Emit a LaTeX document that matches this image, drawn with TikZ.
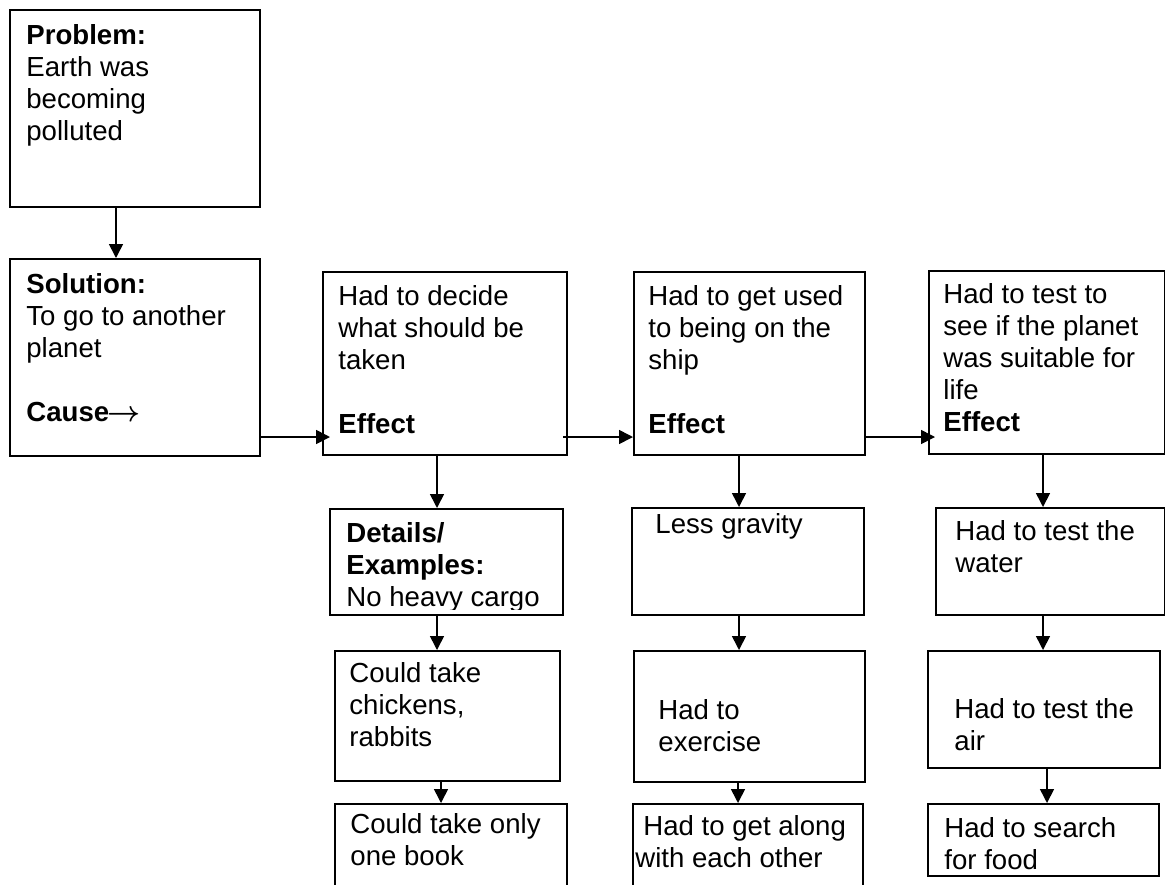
\documentclass[tikz,border=0pt]{standalone}
\usepackage{fontspec}
\setmainfont{Liberation Sans}
\usetikzlibrary{arrows.meta,positioning}

\begin{document}
\begin{tikzpicture}[x=0.5pt, y=-0.5pt,
  cell/.style={rectangle, draw, line width=1pt, anchor=north west, inner sep=0pt},
  txt/.style={anchor=north west, inner sep=0pt, align=left, font=\fontsize{13.8}{16}\selectfont},
  >={Triangle[length=7pt, width=7pt]},
  arr/.style={->, line width=0.8pt}
]
\path[use as bounding box, clip] (0,0) rectangle (1165,884);

% Problem and solution on the left
\node[cell, minimum width=125pt, minimum height=98.5pt] (prob) at (9,9) {};
\node[cell, minimum width=125pt, minimum height=98.5pt] (sol)  at (9,258) {};
\node[txt] (probt) at ([shift={(17,12.6)}]prob.north west) {\strut\textbf{Problem:}\\Earth was\\becoming\\polluted};
\node[txt] (solt)  at ([shift={(17,12.6)}]sol.north west) {\strut\textbf{Solution:}\\To go to another\\planet\\[16pt]\textbf{Cause}\kern-1pt{\boldmath$\rightarrow$}};

% Effect boxes in a row
\node[cell, minimum width=122pt,   minimum height=91.5pt] (eff1) at (322,271) {};
\node[cell, minimum width=115.5pt, minimum height=91.5pt] (eff2) at (633,271) {};
\node[cell, minimum width=118pt,   minimum height=91.5pt] (eff3) at (928,270) {};
\node[txt] (eff1t) at ([shift={(16,11.6)}]eff1.north west) {\strut Had to decide\\what should be\\taken\\[16pt]\textbf{Effect}};
\node[txt] (eff2t) at ([shift={(15,11.6)}]eff2.north west) {\strut Had to get used\\to being on the\\ship\\[16pt]\textbf{Effect}};
\node[txt] (eff3t) at ([shift={(15,10.6)}]eff3.north west) {\strut Had to test to\\see if the planet\\was suitable for\\life\\\textbf{Effect}};

% Details under the first effect
\node[cell, minimum width=116.5pt, minimum height=53pt] (det1) at (329,508) {};
\node[cell, minimum width=112.5pt, minimum height=65pt] (det2) at (334,650) {};
\node[cell, minimum width=116pt,   minimum height=50pt] (det3) at (334,803) {};
\begin{scope}
  \clip (det1.north west) rectangle ([yshift=3.5pt]det1.south east);
  \node[txt] (det1t) at ([shift={(17,11.6)}]det1.north west) {\strut\textbf{Details/}\\\textbf{Examples:}\\No heavy cargo};
\end{scope}
\node[txt] (det2t) at ([shift={(15,9.6)}]det2.north west) {\strut Could take\\chickens,\\rabbits};
\node[txt] (det3t) at ([shift={(16,7.6)}]det3.north west) {\strut Could take only\\one book};

% Details under the second effect
\node[cell, minimum width=116pt,   minimum height=53.5pt] (less)  at (631,507) {};
\node[cell, minimum width=115.5pt, minimum height=65.5pt] (exer)  at (633,650) {};
\node[cell, minimum width=115pt,   minimum height=50pt]   (along) at (632,803) {};
\node[txt] (lesst)  at ([shift={(24,3.6)}]less.north west) {\strut Less gravity};
\node[txt] (exert)  at ([shift={(25,46.6)}]exer.north west) {\strut Had to\\exercise};
\node[txt] (alongt) at ([shift={(3,9.6)}]along.north west) {\strut\hspace*{4pt}Had to get along\\with each other};

% Details under the third effect
\node[cell, minimum width=114.5pt, minimum height=53.5pt] (water)  at (935,507) {};
\node[cell, minimum width=116pt,   minimum height=58.5pt] (air)    at (927,650) {};
\node[cell, minimum width=115.5pt, minimum height=36pt]   (search) at (927,803) {};
\node[txt] (watert) at ([shift={(20,10.6)}]water.north west) {\strut Had to test the\\water};
\node[txt] (airt)   at ([shift={(27,45.6)}]air.north west) {\strut Had to test the\\air};
\begin{scope}
  \clip (search.north west) rectangle ([yshift=3.5pt]search.south east);
  \node[txt] (searcht) at ([shift={(17,11.6)}]search.north west) {\strut Had to search\\for food};
\end{scope}

% Arrows
\draw[arr] (prob.south -| 116,0) -- (sol.north -| 116,0);
\draw[arr] (sol.east |- 0,437) -- ([xshift=4pt]eff1.west |- 0,437);
\draw[arr] ([xshift=-2.5pt]eff1.east |- 0,437) -- (eff2.west |- 0,437);
\draw[arr] (eff2.east |- 0,437) -- ([xshift=3.5pt]eff3.west |- 0,437);
\draw[arr] (eff1.south -| 437,0) -- (det1.north -| 437,0);
\draw[arr] (det1.south -| 437,0) -- (det2.north -| 437,0);
\draw[arr] (det2.south -| 441,0) -- (det3.north -| 441,0);
\draw[arr] (eff2.south -| 739,0) -- (less.north -| 739,0);
\draw[arr] (less.south -| 739,0) -- (exer.north -| 739,0);
\draw[arr] (exer.south -| 738,0) -- (along.north -| 738,0);
\draw[arr] (eff3.south -| 1043,0) -- (water.north -| 1043,0);
\draw[arr] (water.south -| 1043,0) -- (air.north -| 1043,0);
\draw[arr] (air.south -| 1047,0) -- (search.north -| 1047,0);
\end{tikzpicture}
\end{document}
